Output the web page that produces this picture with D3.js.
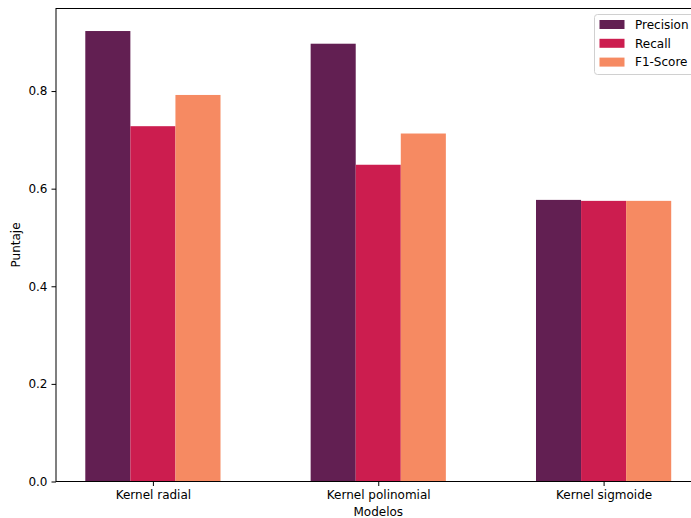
<!DOCTYPE html>
<html><head><meta charset="utf-8">
<script src="https://cdn.jsdelivr.net/npm/d3@7"></script>
<style>body{margin:0;background:#fff;} svg{display:block;font-family:"DejaVu Sans",sans-serif;}</style>
</head><body>
<svg id="c" width="691" height="518"></svg>
<script>
const categories = ["Kernel radial", "Kernel polinomial", "Kernel sigmoide"];
const seriesNames = ["Precision", "Recall", "F1-Score"];
const precision = [0.923, 0.897, 0.577];
const recall = [0.728, 0.649, 0.575];
const f1 = [0.792, 0.713, 0.575];
const yTicks = [0.0, 0.2, 0.4, 0.6, 0.8];
const colors = ["#621f52", "#cc1d4f", "#f68a62"];
const series = [precision, recall, f1];

const svg = d3.select("#c");
const L = 56, R = 700.5, T = 8.5, B = 481.5;
const barW = 0.2;
const x = d3.scaleLinear().domain([-0.43, 2.43]).range([L, R]);
const ymax = d3.max(series.flat()) * 1.05;
const y = d3.scaleLinear().domain([0, ymax]).range([B, T]);

// bars
series.forEach((vals, si) => {
  svg.append("g").selectAll("rect").data(vals).join("rect")
    .attr("x", (d, i) => x(i + (si - 1) * barW - barW / 2))
    .attr("width", (d, i) => x(i + (si - 1) * barW + barW / 2) - x(i + (si - 1) * barW - barW / 2))
    .attr("y", d => y(d))
    .attr("height", d => B - y(d))
    .attr("fill", colors[si]);
});

// axes frame
svg.append("rect").attr("x", L).attr("y", T).attr("width", R - L).attr("height", B - T)
  .attr("fill", "none").attr("stroke", "#000").attr("stroke-width", 1);

const yAxis = svg.append("g").attr("transform", `translate(${L},0)`)
  .call(d3.axisLeft(y).tickValues(yTicks).tickFormat(d3.format(".1f")).tickSize(4.5).tickPadding(4));
const xAxis = svg.append("g").attr("transform", `translate(0,${B})`)
  .call(d3.axisBottom(x).tickValues([0, 1, 2]).tickFormat(i => categories[i]).tickSize(4.5).tickPadding(4));
[yAxis, xAxis].forEach(g => {
  g.select(".domain").remove();
  g.selectAll("text").attr("font-size", 12).attr("fill", "#000").attr("font-family", "DejaVu Sans, sans-serif");
  g.selectAll("line").attr("stroke", "#000");
});

svg.append("text").attr("x", x(1)).attr("y", 516).attr("text-anchor", "middle")
  .attr("font-size", 12).text("Modelos");
svg.append("text").attr("transform", `translate(20,${(T + B) / 2}) rotate(-90)`)
  .attr("text-anchor", "middle").attr("font-size", 12).text("Puntaje");

// legend
const lg = svg.append("g");
lg.append("rect").attr("x", 594.5).attr("y", 14.5).attr("width", 110).attr("height", 60)
  .attr("rx", 3).attr("fill", "#fff").attr("fill-opacity", 0.8).attr("stroke", "#d0d0d0");
seriesNames.forEach((n, i) => {
  const cy = 24.5 + i * 18.8;
  lg.append("rect").attr("x", 599.5).attr("y", cy - 4.5).attr("width", 25).attr("height", 9).attr("fill", colors[i]);
  lg.append("text").attr("x", 635).attr("y", cy + 4.3).attr("font-size", 12).text(n);
});
</script>
</body></html>
